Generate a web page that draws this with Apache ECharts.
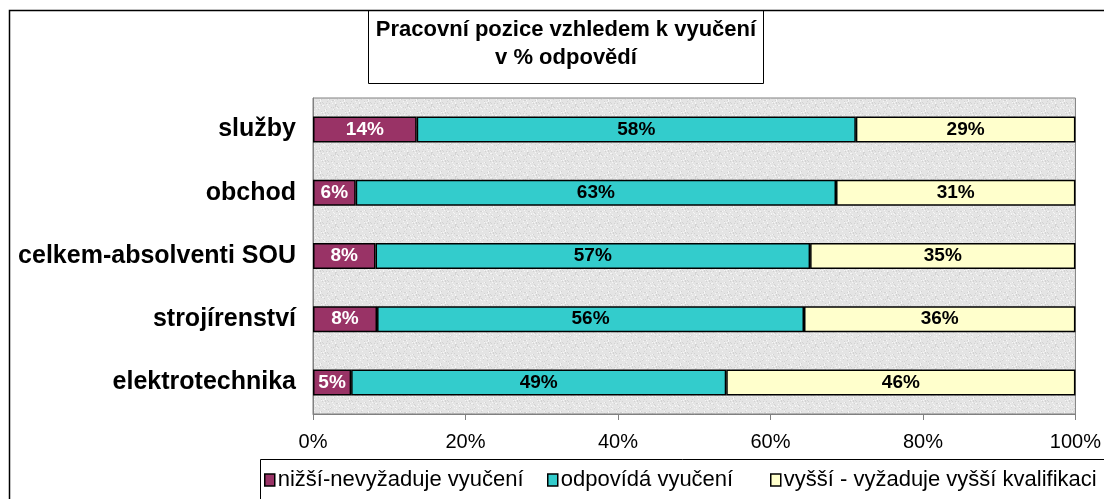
<!DOCTYPE html>
<html>
<head>
<meta charset="utf-8">
<script src="https://cdn.jsdelivr.net/npm/echarts@6/dist/echarts.min.js"></script>
<style>
  html, body { margin: 0; padding: 0; background: #fff; }
  #chart { width: 1104px; height: 499px; }
</style>
</head>
<body>
<div id="chart"></div>
<script>
// kategorie (shora dolů)
var categories = ['služby', 'obchod', 'celkem-absolventi SOU', 'strojírenství', 'elektrotechnika'];
var seriesNames = ['nižší-nevyžaduje vyučení', 'odpovídá vyučení', 'vyšší - vyžaduje vyšší kvalifikaci'];
// hodnoty v % odpovědí
var nizsi = [13.6, 5.6, 8.2, 8.4, 5.0];
var odpovida = [57.6, 63.0, 57.0, 56.0, 49.2];
var vyssi = [28.8, 31.4, 34.8, 35.6, 45.8];
var xTicks = [0, 20, 40, 60, 80, 100];

var colors = ['#993366', '#33CCCC', '#FFFFCC'];
var labelColors = ['#ffffff', '#000000', '#000000'];
var font = 'Liberation Sans, Arial, sans-serif';

// šedá "mramorová" výplň plochy grafu
function makeTexture() {
  var c = document.createElement('canvas');
  c.width = 24; c.height = 24;
  var ctx = c.getContext('2d');
  ctx.fillStyle = '#e4e4e4';
  ctx.fillRect(0, 0, 24, 24);
  for (var y = 0; y < 24; y++) {
    for (var x = 0; x < 24; x++) {
      var h = (x * 7 + y * 13 + (x * y) % 5) % 11;
      if (h === 0) { ctx.fillStyle = '#f6f6f6'; ctx.fillRect(x, y, 1, 1); }
      else if (h === 5) { ctx.fillStyle = '#d2d2d2'; ctx.fillRect(x, y, 1, 1); }
    }
  }
  return c;
}

var myChart = echarts.init(document.getElementById('chart'));
var data = [nizsi, odpovida, vyssi];

var series = data.map(function (vals, i) {
  return {
    name: seriesNames[i],
    type: 'bar',
    stack: 'total',
    barWidth: 26,
    data: vals,
    itemStyle: { color: colors[i], borderColor: '#000', borderWidth: 1.5 },
    label: {
      show: true,
      position: 'inside',
      color: labelColors[i],
      fontFamily: font,
      fontWeight: 'bold',
      fontSize: 19,
      formatter: function (p) { return Math.round(p.value) + '%'; }
    }
  };
});

var legendLefts = [264, 547, 770];
var legends = seriesNames.map(function (n, i) {
  return {
    data: [n],
    left: legendLefts[i],
    top: 469,
    itemWidth: 10,
    itemHeight: 12,
    itemGap: 0,
    padding: 0,
    icon: 'rect',
    itemStyle: { borderColor: '#000', borderWidth: 1.5 },
    textStyle: { fontFamily: font, fontSize: 22, color: '#000', padding: [0, 0, 0, -2] },
    selectedMode: false
  };
});

var option = {
  backgroundColor: '#fff',
  animation: false,
  title: {
    text: 'Pracovní pozice vzhledem k vyučení\nv % odpovědí',
    left: 561,
    top: 11,
    textAlign: 'center',
    textStyle: { fontFamily: font, fontWeight: 'bold', fontSize: 22, lineHeight: 28, color: '#000' }
  },
  legend: legends,
  graphic: [
    { type: 'polyline', shape: { points: [[9.5, 499], [9.5, 10.5], [1104, 10.5]] }, style: { stroke: '#000', lineWidth: 1.5, fill: null }, z: 10 },
    { type: 'rect', shape: { x: 368.5, y: 10.5, width: 395, height: 73 }, style: { stroke: '#000', lineWidth: 1, fill: '#fff' }, z: 1 },
    { type: 'rect', shape: { x: 260.5, y: 459.5, width: 860, height: 60 }, style: { stroke: '#000', lineWidth: 1, fill: '#fff' }, z: 1 }
  ],
  grid: {
    left: 313,
    right: 26,
    top: 98,
    bottom: 85,
    show: true,
    backgroundColor: { image: makeTexture(), repeat: 'repeat' },
    borderColor: '#808080',
    borderWidth: 1
  },
  xAxis: {
    type: 'value',
    min: xTicks[0],
    max: xTicks[xTicks.length - 1],
    interval: xTicks[1] - xTicks[0],
    axisLine: { show: true, lineStyle: { color: '#808080', width: 1 } },
    axisTick: { show: true, length: 6, lineStyle: { color: '#808080' } },
    splitLine: { show: false },
    axisLabel: { formatter: '{value}%', fontFamily: font, fontSize: 20, color: '#000', margin: 18 }
  },
  yAxis: {
    type: 'category',
    inverse: true,
    data: categories,
    axisLine: { show: true, lineStyle: { color: '#808080', width: 1 } },
    axisTick: { show: false },
    axisLabel: { fontFamily: font, fontWeight: 'bold', fontSize: 25, color: '#000', margin: 17 }
  },
  series: series
};

myChart.setOption(option);
</script>
</body>
</html>
